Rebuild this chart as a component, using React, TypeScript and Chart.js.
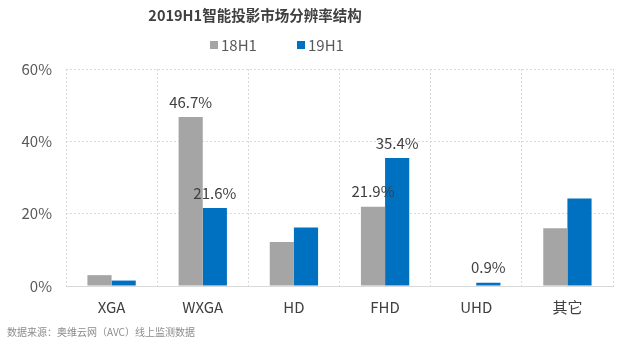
import React, { useEffect, useRef } from "react";
import { Chart, registerables } from "chart.js";

Chart.register(...registerables);

const categories = ["XGA", "WXGA", "HD", "FHD", "UHD", "其它"];
const seriesNames = ["18H1", "19H1"];
const values18H1 = [3.0, 46.7, 12.2, 21.9, 0, 16.0];
const values19H1 = [1.5, 21.6, 16.2, 35.4, 0.9, 24.2];
const labels18H1: (string | null)[] = [null, "46.7%", null, "21.9%", null, null];
const labels19H1: (string | null)[] = [null, "21.6%", null, "35.4%", "0.9%", null];
const yTicks = [0, 20, 40, 60];
const titleText = "2019H1智能投影市场分辨率结构";
const sourceText = "数据来源：奥维云网（AVC）线上监测数据";

const colors = ["#A5A5A5", "#0070C0"];
const FONT = "'Noto Sans CJK SC', 'Microsoft YaHei', sans-serif";

const decorPlugin = {
  id: "decor",
  afterDatasetsDraw(chart: any) {
    const ctx = chart.ctx;
    ctx.save();
    const labelSets = [labels18H1, labels19H1];
    ctx.font = `15px ${FONT}`;
    ctx.fillStyle = "#404040";
    ctx.textAlign = "center";
    ctx.textBaseline = "middle";
    labelSets.forEach((set, di) => {
      const meta = chart.getDatasetMeta(di);
      set.forEach((txt, i) => {
        if (!txt) return;
        const el = meta.data[i];
        ctx.fillText(txt, el.x, el.y - 15);
      });
    });
    ctx.restore();
  },
  afterDraw(chart: any) {
    const ctx = chart.ctx;
    ctx.save();
    ctx.font = `bold 14.5px ${FONT}`;
    ctx.fillStyle = "#404040";
    ctx.textAlign = "center";
    ctx.textBaseline = "middle";
    ctx.fillText(titleText, 255, 15);
    ctx.font = `15px ${FONT}`;
    ctx.textAlign = "left";
    const legendX = [210, 297];
    seriesNames.forEach((name, i) => {
      ctx.fillStyle = colors[i];
      ctx.fillRect(legendX[i], 41, 8, 8);
      ctx.fillStyle = "#595959";
      ctx.fillText(name, legendX[i] + 11, 45);
    });
    ctx.font = `10px ${FONT}`;
    ctx.fillStyle = "#8c8c8c";
    ctx.fillText(sourceText, 7, 332);
    ctx.restore();
  },
};

export default function App() {
  const ref = useRef<HTMLCanvasElement>(null);
  useEffect(() => {
    if (!ref.current) return;
    const chart = new Chart(ref.current, {
      type: "bar",
      data: {
        labels: categories,
        datasets: [
          { label: seriesNames[0], data: values18H1, backgroundColor: colors[0] },
          { label: seriesNames[1], data: values19H1, backgroundColor: colors[1] },
        ],
      },
      options: {
        animation: false,
        responsive: true,
        maintainAspectRatio: false,
        layout: { padding: { left: 0, right: 27, top: 69, bottom: 38 } },
        plugins: { legend: { display: false }, title: { display: false }, tooltip: { enabled: false } },
        datasets: { bar: { categoryPercentage: 0.53, barPercentage: 1 } },
        scales: {
          x: {
            grid: { color: "#d9d9d9", tickLength: 0, offset: true },
            border: { color: "#d9d9d9", dash: [2, 2] },
            ticks: { color: "#404040", font: { family: FONT, size: 15 }, padding: 12 },
            afterFit: (s: any) => { s.height = 30; },
          },
          y: {
            min: 0,
            max: 60,
            afterBuildTicks: (s: any) => { s.ticks = yTicks.map((v) => ({ value: v })); },
            grid: { color: "#d9d9d9", tickLength: 0 },
            border: { display: false, dash: [2, 2] },
            ticks: {
              color: "#595959",
              font: { family: FONT, size: 15 },
              padding: 14,
              callback: (v: any) => `${v}%`,
            },
            afterFit: (s: any) => { s.width = 66; },
          },
        },
      },
      plugins: [decorPlugin],
    });
    return () => chart.destroy();
  }, []);
  return (
    <div style={{ position: "fixed", left: 0, top: 0, width: 640, height: 354, background: "#fff" }}>
      <canvas ref={ref} />
    </div>
  );
}
